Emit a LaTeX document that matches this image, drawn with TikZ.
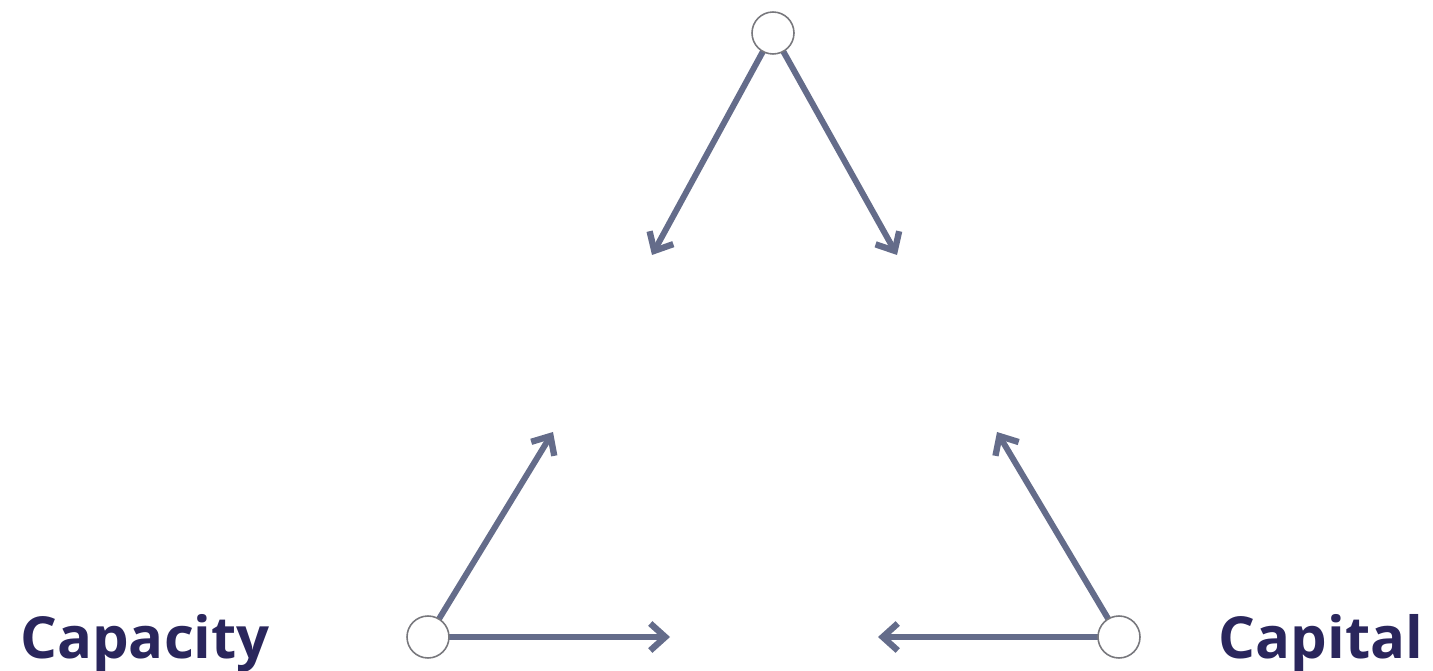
\documentclass[tikz,border=0pt]{standalone}
\usepackage{fontspec}
\setsansfont{Open Sans}
\usepackage{tikz}
\usetikzlibrary{arrows.meta,positioning}
\definecolor{tredge}{RGB}{100,108,138}
\definecolor{trring}{RGB}{120,120,125}
\definecolor{trink}{RGB}{42,38,92}
\tikzset{
  px/.style={x=0.02cm, y=-0.02cm},
  hub/.style={
    circle, draw=trring, fill=white, line width=0.9pt,
    minimum size=8.4mm, inner sep=0pt
  },
  arr/.style={
    -{Straight Barb[length=3mm,width=5.4mm,line width=3.6pt]},
    draw=tredge, line width=3.4pt
  },
  lbl/.style={font=\sffamily\bfseries\fontsize{33}{38}\selectfont, text=trink},
  every picture/.append style={line join=round}
}
\begin{document}
\begin{tikzpicture}[px]
  \useasboundingbox (0,0) rectangle (1433,671);
  % three corners
  \coordinate (tp) at (773,33);
  \coordinate (bl) at (428,637);
  \coordinate (br) at (1119,637);
  % free arrow ends
  \coordinate (tpl) at (652,255);
  \coordinate (tpr) at (897,255);
  \coordinate (blu) at (553,432);
  \coordinate (blr) at (670,637);
  \coordinate (bru) at (997,432);
  \coordinate (brl) at (878,637);
  \draw[arr] (tp) -- (tpl);
  \draw[arr] (tp) -- (tpr);
  \draw[arr] (bl) -- (blu);
  \draw[arr] (bl) -- (blr);
  \draw[arr] (br) -- (bru);
  \draw[arr] (br) -- (brl);
  \node[hub] (top) at (tp) {};
  \node[hub] (left) at (bl) {};
  \node[hub] (right) at (br) {};
  \node[lbl] (capa) at (145,643) {Capacity};
  \node[lbl] (capi) at (1321,643) {Capital};
\end{tikzpicture}
\end{document}
